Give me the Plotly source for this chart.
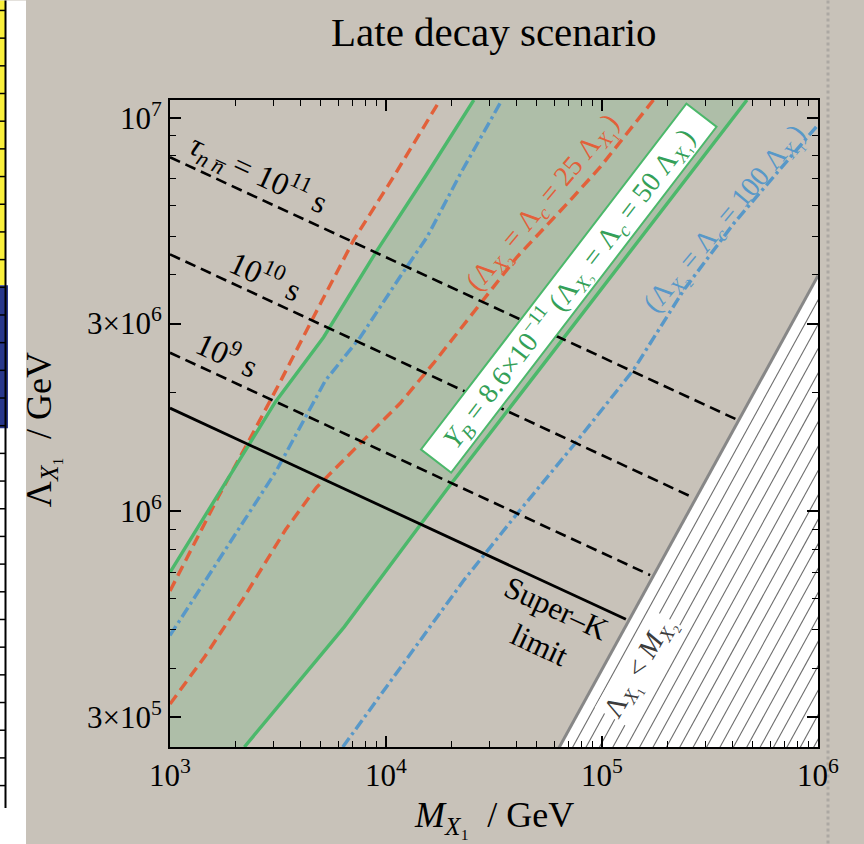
import math
import plotly.graph_objects as go

# ---------------- data ----------------
# Y_B = 8.6e-11 band (Lambda_X2 = Lambda_c = 50 Lambda_X1): two green contours
green_left_M = [1.0e3, 2.30e3, 3.08e3, 5.14e3, 9.08e3, 1.55e4, 2.55e4]
green_left_L = [7.0e5, 1.46e6, 1.90e6, 2.77e6, 4.60e6, 7.21e6, 1.11e7]
green_right_M = [2.21e3, 6.41e3, 1.46e4, 1.99e4, 5.69e4, 1.19e5, 2.56e5, 4.69e5]
green_right_L = [2.52e5, 5.09e5, 9.33e5, 1.17e6, 2.47e6, 4.18e6, 7.21e6, 1.11e7]

# Lambda_X2 = Lambda_c = 25 Lambda_X1 (orange dashed)
orange_left_M = [1.0e3, 1.675e3, 2.33e3, 3.26e3, 4.62e3, 7.08e3, 1.08e4, 1.78e4]
orange_left_L = [6.28e5, 1.09e6, 1.52e6, 2.15e6, 3.12e6, 4.89e6, 7.06e6, 1.11e7]
orange_right_M = [1.0e3, 1.45e3, 2.18e3, 3.42e3, 4.76e3, 7.31e3, 1.16e4, 1.66e4,
                  2.83e4, 4.04e4, 6.89e4, 9.82e4, 1.73e5]
orange_right_L = [3.24e5, 4.28e5, 6.0e5, 8.97e5, 1.15e6, 1.46e6, 1.88e6, 2.38e6,
                  3.44e6, 4.43e6, 6.05e6, 7.50e6, 1.11e7]

# Lambda_X2 = Lambda_c = 100 Lambda_X1 (blue dash-dot)
blue_left_M = [1.0e3, 1.60e3, 3.11e3, 5.24e3, 7.60e3, 1.16e4, 1.55e4, 2.21e4, 3.44e4]
blue_left_L = [4.84e5, 7.23e5, 1.27e6, 2.15e6, 2.77e6, 3.94e6, 4.98e6, 7.21e6, 1.11e7]
blue_right_M = [6.31e3, 1.30e4, 2.30e4, 4.06e4, 7.52e4, 1.40e5, 2.39e5, 4.06e5, 6.22e5, 1.0e6]
blue_right_L = [2.52e5, 4.37e5, 6.70e5, 9.89e5, 1.49e6, 2.29e6, 3.65e6, 5.38e6, 7.06e6, 9.6e6]

# n-nbar oscillation lifetime contours (black dashed) and Super-K limit (solid)
tau_labels = ["1e11", "1e10", "1e9"]
tau_M = [[1.0e3, 4.22e5], [1.0e3, 2.59e5], [1.0e3, 1.67e5]]
tau_L = [[7.94e6, 1.71e6], [4.50e6, 1.09e6], [2.53e6, 6.89e5]]
superK_M = [1.0e3, 1.29e5]
superK_L = [1.83e6, 5.32e5]

# excluded region boundary Lambda_X1 < M_X2
bound_M = [6.0e4, 1.0e6]
bound_L = [2.38e5, 3.97e6]

# axes
x_range = [1.0e3, 1.0e6]
y_range = [2.52e5, 1.11e7]
x_ticks = [1e3, 1e4, 1e5, 1e6]
x_ticktext = ["10<sup>3</sup>", "10<sup>4</sup>", "10<sup>5</sup>", "10<sup>6</sup>"]
y_ticks = [3e5, 1e6, 3e6, 1e7]
y_ticktext = ["3×10<sup>5</sup>", "10<sup>6</sup>", "3×10<sup>6</sup>", "10<sup>7</sup>"]
x_minor = [m * 10 ** e for e in (3, 4, 5) for m in range(2, 10)]
y_minor = [m * 10 ** e for e in (5, 6) for m in range(2, 10)
           if m * 10 ** e not in y_ticks and m * 10 ** e > 2.52e5]

# ---------------- style ----------------
SERIF = "Liberation Serif"
BG = "rgb(200,194,185)"
BAND = "rgb(174,190,168)"
GREEN = "rgb(76,184,107)"
GREEN_TXT = "rgb(52,160,88)"
ORANGE = "rgb(226,96,58)"
BLUE = "rgb(88,152,200)"

W_FIG, H_FIG = 864, 844
L_PX, R_PX, T_PX, B_PX = 170, 818, 99.6, 747


def px(x):
    return (x - L_PX) / (R_PX - L_PX)


def py(y):
    return (B_PX - y) / (B_PX - T_PX)


fig = go.Figure()

# green band fill
band_M = green_left_M + green_right_M[::-1] + [x_range[0]]
band_L = green_left_L + green_right_L[::-1] + [y_range[0]]
fig.add_trace(go.Scatter(x=band_M, y=band_L, mode="lines", fill="toself",
                         fillcolor=BAND, line=dict(width=0), hoverinfo="skip"))

# hatched excluded region (white fill + hatch lines parallel to boundary)
ratio = bound_L[1] / bound_M[1]
fig.add_trace(go.Scatter(x=[bound_M[0], bound_M[1], bound_M[1], bound_M[0]],
                         y=[bound_L[0], bound_L[1], bound_L[0] * 0.9, bound_L[0] * 0.9],
                         mode="lines", fill="toself", fillcolor="white",
                         line=dict(width=0), hoverinfo="skip"))
hx, hy = [], []
for i in range(1, 24):
    c = ratio * 10 ** (-0.062 * i)
    x0 = y_range[0] * 0.95 / c
    hx += [x0, x_range[1] * 1.05, None]
    hy += [y_range[0] * 0.95, c * x_range[1] * 1.05, None]
fig.add_trace(go.Scatter(x=hx, y=hy, mode="lines",
                         line=dict(color="rgb(110,110,110)", width=1.1), hoverinfo="skip"))


def line(xv, yv, color, width, dash):
    fig.add_trace(go.Scatter(x=xv, y=yv, mode="lines",
                             line=dict(color=color, width=width, dash=dash), hoverinfo="skip"))


line(orange_left_M, orange_left_L, ORANGE, 3.4, "11px,6px")
line(orange_right_M, orange_right_L, ORANGE, 3.4, "11px,6px")
line(blue_left_M, blue_left_L, BLUE, 3.4, "11px,4px,3px,4px")
line(blue_right_M, blue_right_L, BLUE, 3.4, "11px,4px,3px,4px")
line(green_left_M, green_left_L, GREEN, 3.4, "solid")
line(green_right_M, green_right_L, GREEN, 3.4, "solid")
for tm, tl in zip(tau_M, tau_L):
    line(tm, tl, "black", 2.6, "11px,6px")
line(superK_M, superK_L, "black", 2.8, "solid")
line(bound_M, bound_L, "rgb(135,135,135)", 3, "solid")


# ---------------- annotations ----------------
def ann(x, y, text, size, angle=0, color="black", **kw):
    fig.add_annotation(x=px(x), y=py(y), xref="paper", yref="paper", text=text,
                       xanchor="center", yanchor="middle",
                       showarrow=False, textangle=angle,
                       font=dict(family=SERIF, size=size, color=color), **kw)


SUB1 = "<sub><i>X</i>₁</sub>"
SUB2 = "<sub><i>X</i>₂</sub>"

ann(494, 32, "Late decay scenario", 41)
ann(494, 818, "<i>M</i>" + SUB1 + "  / GeV", 36)
ann(41, 430, "Λ" + SUB1 + "  / GeV", 36, angle=-90)

ann(259, 173, "<i>τ</i><sub><i>n</i> <i>n̅</i></sub> = 10<sup>11</sup> s", 32, 24.8)
ann(266, 274, "10<sup>10</sup> s", 32, 24.8)
ann(228, 353, "10<sup>9</sup> s", 32, 24.8)
ann(548, 626, "Super–K<br>limit", 31, 24.8)

ann(569, 288,
    "<i>Y</i><sub><i>B</i></sub> = 8.6×10<sup>−11</sup> (Λ" + SUB2 +
    " = Λ<sub><i>c</i></sub> = 50 Λ" + SUB1 + ")",
    28, -52.5, GREEN_TXT, bgcolor="white", bordercolor=GREEN, borderwidth=2,
    borderpad=1, width=432, height=34)
ann(543, 203, "(Λ" + SUB2 + " = Λ<sub><i>c</i></sub> = 25 Λ" + SUB1 + ")",
    28, -50, ORANGE)
ann(725, 219, "(Λ" + SUB2 + " = Λ<sub><i>c</i></sub> = 100 Λ" + SUB1 + ")",
    28, -50, BLUE)
ann(639, 668, "Λ" + SUB1 + " < <i>M</i>" + SUB2, 28, -60,
    "rgb(60,60,60)", bgcolor="white")


# ---------------- page decorations (left strip, right border) ----------------
def rect(x0, y0, x1, y1, color):
    fig.add_shape(type="rect", xref="paper", yref="paper",
                  x0=px(x0), x1=px(x1), y0=py(y0), y1=py(y1),
                  fillcolor=color, line=dict(width=0), layer="below")


rect(0, 0, 26, 844, "white")
rect(0, 0, 5, 285, "rgb(250,240,60)")
rect(0, 285, 8, 428, "rgb(40,55,140)")
fig.add_shape(type="line", xref="paper", yref="paper", x0=px(5.5), x1=px(5.5),
              y0=py(0), y1=py(808), line=dict(color="black", width=2), layer="below")
for k in range(0, 30):
    yy = 10 + 27.7 * k
    if yy > 808:
        break
    fig.add_shape(type="line", xref="paper", yref="paper", x0=px(0), x1=px(5.5),
                  y0=py(yy), y1=py(yy), line=dict(color="black", width=1.5), layer="below")
fig.add_shape(type="line", xref="paper", yref="paper", x0=px(828), x1=px(828),
              y0=py(0), y1=py(844), line=dict(color="rgb(172,168,163)", width=3, dash="dot"),
              layer="below")

# ---------------- axes ----------------
axis_common = dict(type="log", ticks="inside", ticklen=11, tickwidth=1.5, tickcolor="black",
                   showline=True, linecolor="black", linewidth=2, mirror="allticks",
                   showgrid=False, zeroline=False,
                   tickfont=dict(family=SERIF, size=31, color="black"))
fig.update_xaxes(range=[math.log10(x_range[0]), math.log10(x_range[1])],
                 tickvals=x_ticks, ticktext=x_ticktext,
                 minor=dict(tickvals=x_minor, ticks="inside", ticklen=6, tickwidth=1.3,
                            tickcolor="black", showgrid=False),
                 **axis_common)
fig.update_yaxes(range=[math.log10(y_range[0]), math.log10(y_range[1])],
                 tickvals=y_ticks, ticktext=y_ticktext,
                 minor=dict(tickvals=y_minor, ticks="inside", ticklen=6, tickwidth=1.3,
                            tickcolor="black", showgrid=False),
                 **axis_common)

fig.update_layout(width=W_FIG, height=H_FIG, showlegend=False,
                  paper_bgcolor=BG, plot_bgcolor=BG,
                  margin=dict(l=L_PX, r=W_FIG - R_PX, t=T_PX, b=H_FIG - B_PX),
                  font=dict(family=SERIF))

fig.write_html("out.html")
